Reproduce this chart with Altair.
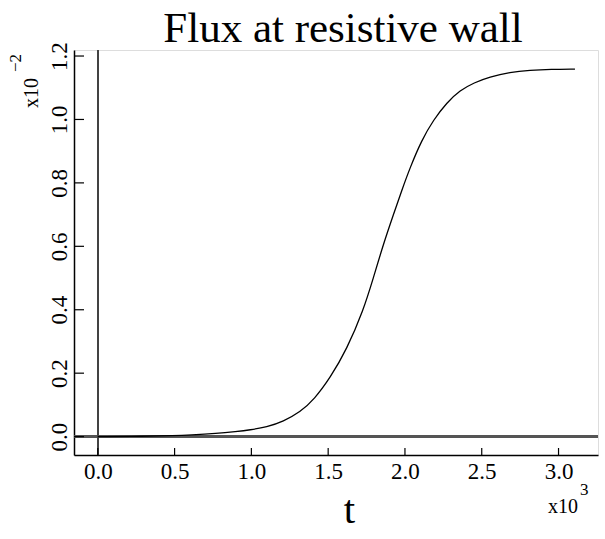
import altair as alt
import pandas as pd

# Curve values (t in units of 10^3, flux in units of 10^-2)
t_vals = [0.0, 0.3, 0.5, 0.6, 0.775, 0.9, 0.99, 1.1, 1.208, 1.317, 1.41, 1.513, 1.621,
          1.729, 1.794, 1.859, 1.925, 1.979, 2.033, 2.109, 2.185, 2.272, 2.359, 2.45,
          2.55, 2.684, 2.814, 2.95, 3.107]
flux_vals = [0.0, 0.001, 0.003, 0.005, 0.01, 0.016, 0.021, 0.03, 0.048, 0.077, 0.118,
             0.185, 0.275, 0.398, 0.5, 0.606, 0.7, 0.776, 0.848, 0.935, 0.998, 1.053,
             1.092, 1.116, 1.134, 1.149, 1.155, 1.158, 1.159]

x_ticks = [0.0, 0.5, 1.0, 1.5, 2.0, 2.5, 3.0]
y_ticks = [0.0, 0.2, 0.4, 0.6, 0.8, 1.0, 1.2]

title_text = "Flux at resistive wall"
x_label = "t"
x_mult = "x10"
x_exp = "3"
y_mult = "x10"
y_exp = "\u22122"

FONT = "Liberation Serif"
W, H = 524, 405

df = pd.DataFrame({"t": t_vals, "flux": flux_vals})
xt = pd.DataFrame({"v": x_ticks})
yt = pd.DataFrame({"v": y_ticks})

xscale = alt.Scale(domain=[-0.155, 3.257], nice=False, zero=False)
yscale = alt.Scale(domain=[-0.058, 1.219], nice=False, zero=False)

xaxis = alt.Axis(values=x_ticks, format=".1f", labelFont=FONT, labelFontSize=23,
                 labelColor="black", ticks=False, grid=False, domainColor="black",
                 domainWidth=1.5, labelPadding=23, labelBaseline="alphabetic",
                 title=x_label, titleFont=FONT, titleFontSize=41, titleFontWeight="normal",
                 titleColor="black", titleX=275, titleY=67, titleBaseline="alphabetic",
                 titleAlign="center", labelFlush=False)
yaxis = alt.Axis(values=y_ticks, format=".1f", labelFont=FONT, labelFontSize=23,
                 labelColor="black", ticks=False, grid=False, domainColor="black",
                 domainWidth=1.5, labelAngle=270, labelAlign="center",
                 labelBaseline="alphabetic", labelPadding=8, labelFlush=False)

curve = alt.Chart(df).mark_line(color="black", strokeWidth=1.3, interpolate="basis").encode(
    x=alt.X("t:Q", scale=xscale, axis=xaxis),
    y=alt.Y("flux:Q", scale=yscale, axis=yaxis, title=None),
)

hzero = alt.Chart(df).mark_rule(color="#555555", strokeWidth=1.8).encode(
    y=alt.datum(0, scale=yscale), x=alt.value(0), x2=alt.value(W)
)
vzero = alt.Chart(df).mark_rule(color="#444444", strokeWidth=1.0).encode(
    x=alt.datum(0, scale=xscale), y=alt.value(0), y2=alt.value(H)
)

xtick_marks = alt.Chart(xt).mark_rule(color="black", strokeWidth=1.2).encode(
    x=alt.X("v:Q", scale=xscale), y=alt.value(H - 7), y2=alt.value(H)
)
ytick_marks = alt.Chart(yt).mark_rule(color="black", strokeWidth=1.2).encode(
    y=alt.Y("v:Q", scale=yscale), x=alt.value(0), x2=alt.value(10)
)

def txt(s, x, y, size, angle=0, align="left"):
    return alt.Chart(pd.DataFrame({"s": [s]})).mark_text(
        font=FONT, fontSize=size, color="black", align=align, baseline="alphabetic",
        angle=angle
    ).encode(text="s:N", x=alt.value(x), y=alt.value(y))

annots = (
    txt(title_text, 269, -8, 43, align="center")
    + txt(x_mult, 474, 463, 20)
    + txt(x_exp, 506, 445, 17)
    + txt(y_mult, -36, 58, 20, 270)
    + txt(y_exp, -53, 22, 17, 270)
)

chart = alt.layer(hzero, vzero, xtick_marks, ytick_marks, curve, annots).properties(
    width=W, height=H,
    autosize="none",
    padding={"left": 74, "top": 50, "right": 7, "bottom": 84},
).configure_view(stroke="#333333", strokeWidth=1.5).configure(background="white")

chart.save("out.html", embed_options={"renderer": "svg", "actions": False})
